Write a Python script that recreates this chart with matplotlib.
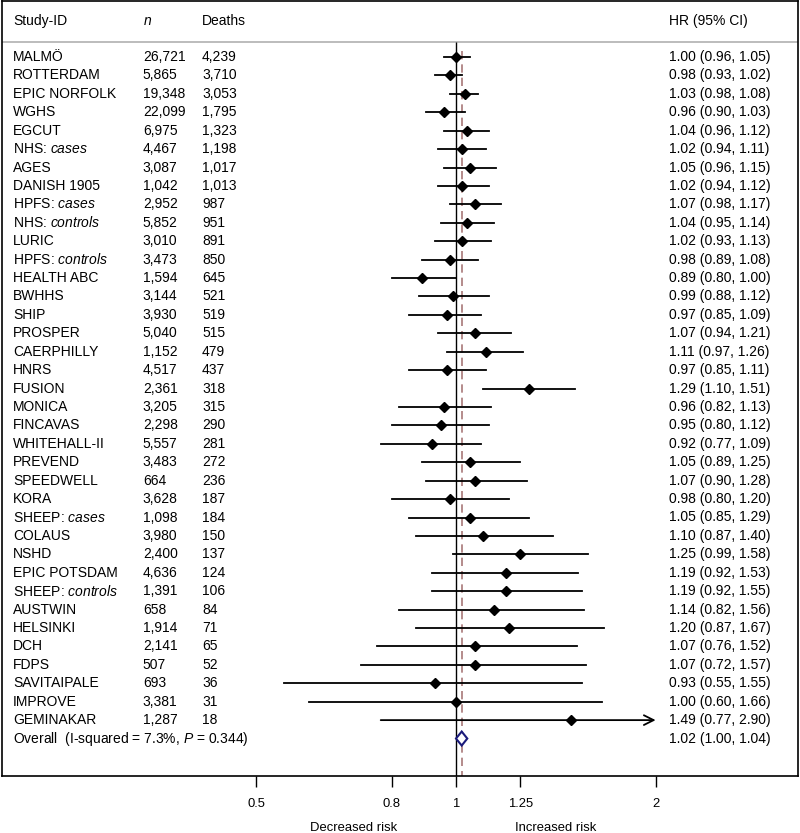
import matplotlib
matplotlib.use('Agg')
import matplotlib.pyplot as plt
import matplotlib.transforms as mtransforms
import numpy as np

plt.rcParams['font.family'] = ['Liberation Sans', 'DejaVu Sans']
plt.rcParams['mathtext.fontset'] = 'custom'
plt.rcParams['mathtext.rm'] = 'Liberation Sans'
plt.rcParams['mathtext.it'] = 'Liberation Sans:italic'

# dados
estudos = ['MALMÖ', 'ROTTERDAM', 'EPIC NORFOLK', 'WGHS', 'EGCUT', r'NHS: $\it{cases}$',
           'AGES', 'DANISH 1905', r'HPFS: $\it{cases}$', r'NHS: $\it{controls}$', 'LURIC',
           r'HPFS: $\it{controls}$', 'HEALTH ABC', 'BWHHS', 'SHIP', 'PROSPER', 'CAERPHILLY',
           'HNRS', 'FUSION', 'MONICA', 'FINCAVAS', 'WHITEHALL-II', 'PREVEND', 'SPEEDWELL',
           'KORA', r'SHEEP: $\it{cases}$', 'COLAUS', 'NSHD', 'EPIC POTSDAM',
           r'SHEEP: $\it{controls}$', 'AUSTWIN', 'HELSINKI', 'DCH', 'FDPS', 'SAVITAIPALE',
           'IMPROVE', 'GEMINAKAR']
n = [26721, 5865, 19348, 22099, 6975, 4467, 3087, 1042, 2952, 5852, 3010, 3473, 1594,
     3144, 3930, 5040, 1152, 4517, 2361, 3205, 2298, 5557, 3483, 664, 3628, 1098, 3980,
     2400, 4636, 1391, 658, 1914, 2141, 507, 693, 3381, 1287]
mortes = [4239, 3710, 3053, 1795, 1323, 1198, 1017, 1013, 987, 951, 891, 850, 645, 521,
          519, 515, 479, 437, 318, 315, 290, 281, 272, 236, 187, 184, 150, 137, 124, 106,
          84, 71, 65, 52, 36, 31, 18]
hr = [1.00, 0.98, 1.03, 0.96, 1.04, 1.02, 1.05, 1.02, 1.07, 1.04, 1.02, 0.98, 0.89, 0.99,
      0.97, 1.07, 1.11, 0.97, 1.29, 0.96, 0.95, 0.92, 1.05, 1.07, 0.98, 1.05, 1.10, 1.25,
      1.19, 1.19, 1.14, 1.20, 1.07, 1.07, 0.93, 1.00, 1.49]
ic_inf = [0.96, 0.93, 0.98, 0.90, 0.96, 0.94, 0.96, 0.94, 0.98, 0.95, 0.93, 0.89, 0.80,
          0.88, 0.85, 0.94, 0.97, 0.85, 1.10, 0.82, 0.80, 0.77, 0.89, 0.90, 0.80, 0.85,
          0.87, 0.99, 0.92, 0.92, 0.82, 0.87, 0.76, 0.72, 0.55, 0.60, 0.77]
ic_sup = [1.05, 1.02, 1.08, 1.03, 1.12, 1.11, 1.15, 1.12, 1.17, 1.14, 1.13, 1.08, 1.00,
          1.12, 1.09, 1.21, 1.26, 1.11, 1.51, 1.13, 1.12, 1.09, 1.25, 1.28, 1.20, 1.29,
          1.40, 1.58, 1.53, 1.55, 1.56, 1.67, 1.52, 1.57, 1.55, 1.66, 2.90]
hr_total, inf_total, sup_total = 1.02, 1.00, 1.04
ticks = [0.5, 0.8, 1, 1.25, 2]
tick_labels = ['0.5', '0.8', '1', '1.25', '2']

fig = plt.figure(figsize=(8, 8.33), dpi=100)
ax = fig.add_axes([2 / 800, 57 / 833, 796 / 800, 775 / 833])
ax.set_xscale('log')
ax.set_xlim(np.exp(-454 / 288), np.exp(342 / 288))
passo = 18.42
ax.set_ylim((776 - 57) / passo, (1 - 57) / passo)

fs = 10
fs_eixo = 9.4
tr = mtransforms.blended_transform_factory(ax.transAxes, ax.transData)
col_id, col_n, col_d, col_hr = 0.0138, 0.177, 0.2513, 0.838

# cabecalho
yh = (21 - 57) / passo
ax.text(col_id, yh, 'Study-ID', transform=tr, va='center', fontsize=fs)
ax.text(col_n, yh, r'$\it{n}$', transform=tr, va='center', fontsize=fs)
ax.text(col_d, yh, 'Deaths', transform=tr, va='center', fontsize=fs)
ax.text(col_hr, yh, 'HR (95% CI)', transform=tr, va='center', fontsize=fs)
ysep = (42 - 57) / passo
ax.axhline(ysep, color='#b0b0b0', lw=1.2)

# linhas verticais
ax.vlines(1, ysep, (776 - 57) / passo, color='black', lw=1.0)
ax.vlines(hr_total, (51 - 57) / passo, (776 - 57) / passo, color='#a87878', lw=1.2,
          linestyles=(0, (5, 3)))

xmax_ax = 2.0
for i in range(len(estudos)):
    y = i
    ax.text(col_id, y, estudos[i], transform=tr, va='center', fontsize=fs)
    ax.text(col_n, y, f'{n[i]:,}', transform=tr, va='center', fontsize=fs)
    ax.text(col_d, y, f'{mortes[i]:,}', transform=tr, va='center', fontsize=fs)
    ax.text(col_hr, y, f'{hr[i]:.2f} ({ic_inf[i]:.2f}, {ic_sup[i]:.2f})', transform=tr,
            va='center', fontsize=fs)
    if ic_sup[i] > xmax_ax:
        ax.annotate('', xy=(xmax_ax, y), xytext=(ic_inf[i], y),
                    arrowprops=dict(arrowstyle='->,head_length=0.7,head_width=0.35',
                                    color='black', lw=1.3, shrinkA=0, shrinkB=0))
    else:
        ax.plot([ic_inf[i], ic_sup[i]], [y, y], color='black', lw=1.3)
    ax.plot(hr[i], y, marker='D', color='black', ms=5.5)

# resultado global
yo = len(estudos)
ax.text(col_id, yo, r'Overall  (I-squared = 7.3%, $\it{P}$ = 0.344)', transform=tr,
        va='center', fontsize=fs)
ax.text(col_hr, yo, f'{hr_total:.2f} ({inf_total:.2f}, {sup_total:.2f})', transform=tr,
        va='center', fontsize=fs)
alt = 7 / passo
ax.fill([inf_total, hr_total, sup_total, hr_total, inf_total],
        [yo, yo - alt, yo, yo + alt, yo], facecolor='white', edgecolor='#1a1a7a', lw=1.5,
        zorder=5)

ax.set_xticks(ticks)
ax.set_xticklabels(tick_labels, fontsize=fs_eixo)
ax.minorticks_off()
ax.tick_params(axis='x', direction='out', length=8, width=1, pad=8)
ax.set_yticks([])
for s in ax.spines.values():
    s.set_linewidth(1.2)

fig.text(354 / 800, 1 - 828 / 833, 'Decreased risk', ha='center', va='center', fontsize=fs_eixo)
fig.text(556 / 800, 1 - 828 / 833, 'Increased risk', ha='center', va='center', fontsize=fs_eixo)

fig.savefig('out.png', dpi=100)
